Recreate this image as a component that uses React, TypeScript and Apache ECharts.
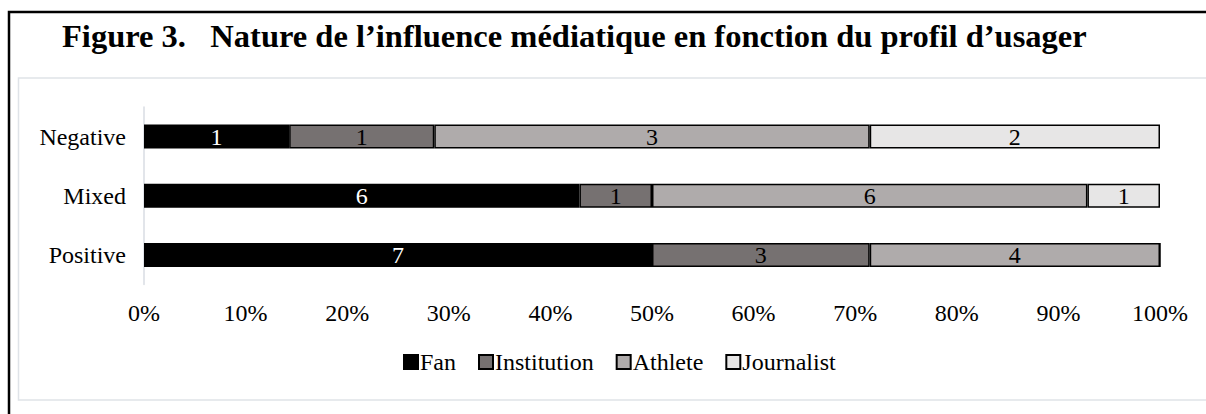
import React, { useEffect, useRef } from "react";
import * as echarts from "echarts";

const categories = ["Positive", "Mixed", "Negative"];
const seriesNames = ["Fan", "Institution", "Athlete", "Journalist"];
const fanCounts = [7, 6, 1];
const institutionCounts = [3, 1, 1];
const athleteCounts = [4, 6, 3];
const journalistCounts = [0, 1, 2];
const seriesColors = ["#000000", "#767171", "#AFABAB", "#E7E6E6"];
const labelColors = ["#ffffff", "#000000", "#000000", "#000000"];
const xTicks = [0, 10, 20, 30, 40, 50, 60, 70, 80, 90, 100];

const FONT = "'Liberation Serif', 'Times New Roman', serif";

export default function App() {
  const ref = useRef<HTMLDivElement>(null);
  useEffect(() => {
    if (!ref.current) return;
    const chart = echarts.init(ref.current, undefined, { renderer: "svg" });
    const allCounts = [fanCounts, institutionCounts, athleteCounts, journalistCounts];
    const totals = categories.map((_, i) => allCounts.reduce((s, arr) => s + arr[i], 0));
    const series = seriesNames.map((name, si) => ({
      name,
      type: "bar",
      stack: "total",
      barWidth: 24,
      itemStyle: { color: seriesColors[si], borderColor: "#000000", borderWidth: 1.5 },
      label: {
        show: true,
        position: "inside",
        color: labelColors[si],
        fontFamily: FONT,
        fontSize: 24,
        formatter: (p: any) => (allCounts[si][p.dataIndex] ? String(allCounts[si][p.dataIndex]) : ""),
      },
      data: allCounts[si].map((v, i) => (v / totals[i]) * 100),
    }));
    chart.setOption({
      animation: false,
      backgroundColor: "#ffffff",
      title: {
        text: "Figure 3.\u00a0\u00a0\u00a0Nature de l\u2019influence m\u00e9diatique en fonction du profil d\u2019usager",
        left: 57,
        top: 14,
        textStyle: { fontFamily: FONT, fontSize: 32.5, fontWeight: "bold", color: "#000000" },
      },
      graphic: [
        {
          type: "polyline",
          shape: { points: [[9, 414], [9, 12], [1206, 12]] },
          style: { fill: "none", stroke: "#000000", lineWidth: 2.5 },
          silent: true,
        },
        {
          type: "polyline",
          shape: { points: [[1206, 78], [18.5, 78], [18.5, 400], [1206, 400]] },
          style: { fill: "none", stroke: "#dfe3e8", lineWidth: 1.5 },
          silent: true,
        },
      ],
      legend: {
        left: 398,
        top: 345,
        itemWidth: 14,
        itemHeight: 14,
        itemGap: 22,
        icon: "rect",
        textStyle: { fontFamily: FONT, fontSize: 24, color: "#000000", padding: [0, 0, 0, -3] },
        data: seriesNames,
      },
      grid: { left: 144, right: 46, top: 107, bottom: 129.5, containLabel: false },
      xAxis: {
        type: "value",
        min: 0,
        max: 100,
        interval: 10,
        axisLine: { show: false },
        axisTick: { show: false },
        splitLine: { show: false },
        axisLabel: {
          margin: 16,
          fontFamily: FONT,
          fontSize: 24,
          color: "#000000",
          formatter: (v: number) => (xTicks.includes(v) ? v + "%" : ""),
        },
      },
      yAxis: {
        type: "category",
        data: categories,
        axisLine: { show: true, lineStyle: { color: "#d9dde3", width: 1.5 } },
        axisTick: { show: false },
        axisLabel: { margin: 18, fontFamily: FONT, fontSize: 24, color: "#000000" },
      },
      series,
    });
    return () => chart.dispose();
  }, []);
  return (
    <div
      ref={ref}
      style={{ position: "absolute", left: 0, top: 0, width: 1206, height: 414 }}
    />
  );
}
